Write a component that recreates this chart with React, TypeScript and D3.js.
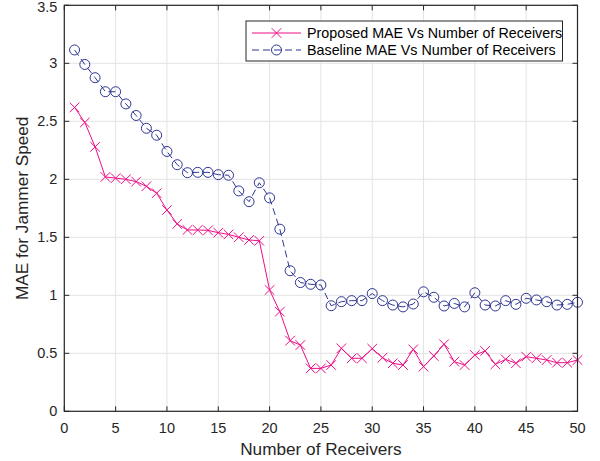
import React from "react";
import * as d3 from "d3";

const receivers = [1,2,3,4,5,6,7,8,9,10,11,12,13,14,15,16,17,18,19,20,21,22,23,24,25,26,27,28,29,30,31,32,33,34,35,36,37,38,39,40,41,42,43,44,45,46,47,48,49,50];
const proposed = [2.62,2.49,2.28,2.02,2.01,2.0,1.98,1.94,1.88,1.735,1.615,1.563,1.563,1.56,1.54,1.525,1.5,1.477,1.47,1.046,0.859,0.609,0.571,0.37,0.37,0.399,0.543,0.457,0.457,0.54,0.462,0.414,0.399,0.534,0.385,0.477,0.578,0.428,0.399,0.485,0.52,0.405,0.448,0.414,0.471,0.457,0.442,0.419,0.419,0.442];
const baseline = [3.115,2.99,2.876,2.755,2.755,2.65,2.55,2.44,2.38,2.24,2.126,2.057,2.06,2.06,2.04,2.035,1.9,1.807,1.97,1.84,1.57,1.212,1.11,1.095,1.089,0.91,0.945,0.954,0.954,1.015,0.954,0.916,0.9,0.925,1.03,0.983,0.908,0.93,0.9,1.022,0.916,0.908,0.954,0.922,0.974,0.96,0.945,0.916,0.922,0.94];
const xTicks = [0,5,10,15,20,25,30,35,40,45,50];
const yTicks = [0,0.5,1,1.5,2,2.5,3,3.5];
const seriesNames = ["Proposed MAE Vs Number of Receivers", "Baseline MAE Vs Number of Receivers"];

const W = 600, H = 461;
const L = 64.3, R = 577.5, T = 5.3, B = 411.3;
const PINK = "#ec0f86";
const BLUE = "#2e3592";
const AX = "#262626";
const FONT = "'Liberation Sans', Arial, Helvetica, sans-serif";

export default function App() {
  const x = d3.scaleLinear().domain([0, 50]).range([L, R]);
  const y = d3.scaleLinear().domain([0, 3.5]).range([B, T]);
  const line = d3.line<number>().x((_, i) => x(receivers[i])).y(d => y(d));
  const cross = (cx: number, cy: number, k: string) => {
    const s = 4.8;
    return <path key={k} d={`M${cx - s},${cy - s}L${cx + s},${cy + s}M${cx - s},${cy + s}L${cx + s},${cy - s}`} stroke={PINK} strokeWidth={1} fill="none" />;
  };
  const circ = (cx: number, cy: number, k: string) => (
    <circle key={k} cx={cx} cy={cy} r={5} stroke={BLUE} strokeWidth={1} fill="none" />
  );
  const tl = 5;
  const legX = 246, legY = 21, legW = 316.5, legH = 40;
  return (
    <svg width={W} height={H} style={{ position: "absolute", left: 0, top: 0, background: "#fff" }} fontFamily={FONT}>
      <rect x={0} y={0} width={W} height={H} fill="#fff" />
      {xTicks.map(t => (
        <line key={"gx" + t} x1={x(t)} x2={x(t)} y1={T} y2={B} stroke="#e3e3e3" strokeWidth={1} />
      ))}
      {yTicks.map(t => (
        <line key={"gy" + t} x1={L} x2={R} y1={y(t)} y2={y(t)} stroke="#e3e3e3" strokeWidth={1} />
      ))}
      <path d={line(proposed) || ""} fill="none" stroke={PINK} strokeWidth={1} />
      <path d={line(baseline) || ""} fill="none" stroke={BLUE} strokeWidth={1} strokeDasharray="7,4" />
      {proposed.map((v, i) => cross(x(receivers[i]), y(v), "p" + i))}
      {baseline.map((v, i) => circ(x(receivers[i]), y(v), "b" + i))}
      <rect x={L} y={T} width={R - L} height={B - T} fill="none" stroke={AX} strokeWidth={1.2} />
      {xTicks.map(t => (
        <g key={"tx" + t}>
          <line x1={x(t)} x2={x(t)} y1={B} y2={B - tl} stroke={AX} />
          <line x1={x(t)} x2={x(t)} y1={T} y2={T + tl} stroke={AX} />
          <text x={x(t)} y={B + 22} textAnchor="middle" fontSize={14.5} fill={AX}>{t}</text>
        </g>
      ))}
      {yTicks.map(t => (
        <g key={"ty" + t}>
          <line x1={L} x2={L + tl} y1={y(t)} y2={y(t)} stroke={AX} />
          <line x1={R} x2={R - tl} y1={y(t)} y2={y(t)} stroke={AX} />
          <text x={L - 7} y={Math.max(y(t) + 5, 12)} textAnchor="end" fontSize={14.5} fill={AX}>{t}</text>
        </g>
      ))}
      <text x={(L + R) / 2} y={454.5} textAnchor="middle" fontSize={17.2} fill={AX}>Number of Receivers</text>
      <text transform={`translate(27.5,${(T + B) / 2}) rotate(-90)`} textAnchor="middle" fontSize={17.2} fill={AX}>MAE for Jammer Speed</text>
      <rect x={legX} y={legY} width={legW} height={legH} fill="#fff" stroke={AX} strokeWidth={1} />
      <line x1={252} x2={301} y1={33} y2={33} stroke={PINK} strokeWidth={1} />
      {cross(276.5, 33, "lc")}
      <line x1={252} x2={301} y1={50} y2={50} stroke={BLUE} strokeWidth={1} strokeDasharray="7,4" />
      {circ(276.5, 50, "lb")}
      <text x={307} y={38} fontSize={14.3} fill="#000">{seriesNames[0]}</text>
      <text x={307} y={55} fontSize={14.3} fill="#000">{seriesNames[1]}</text>
    </svg>
  );
}
